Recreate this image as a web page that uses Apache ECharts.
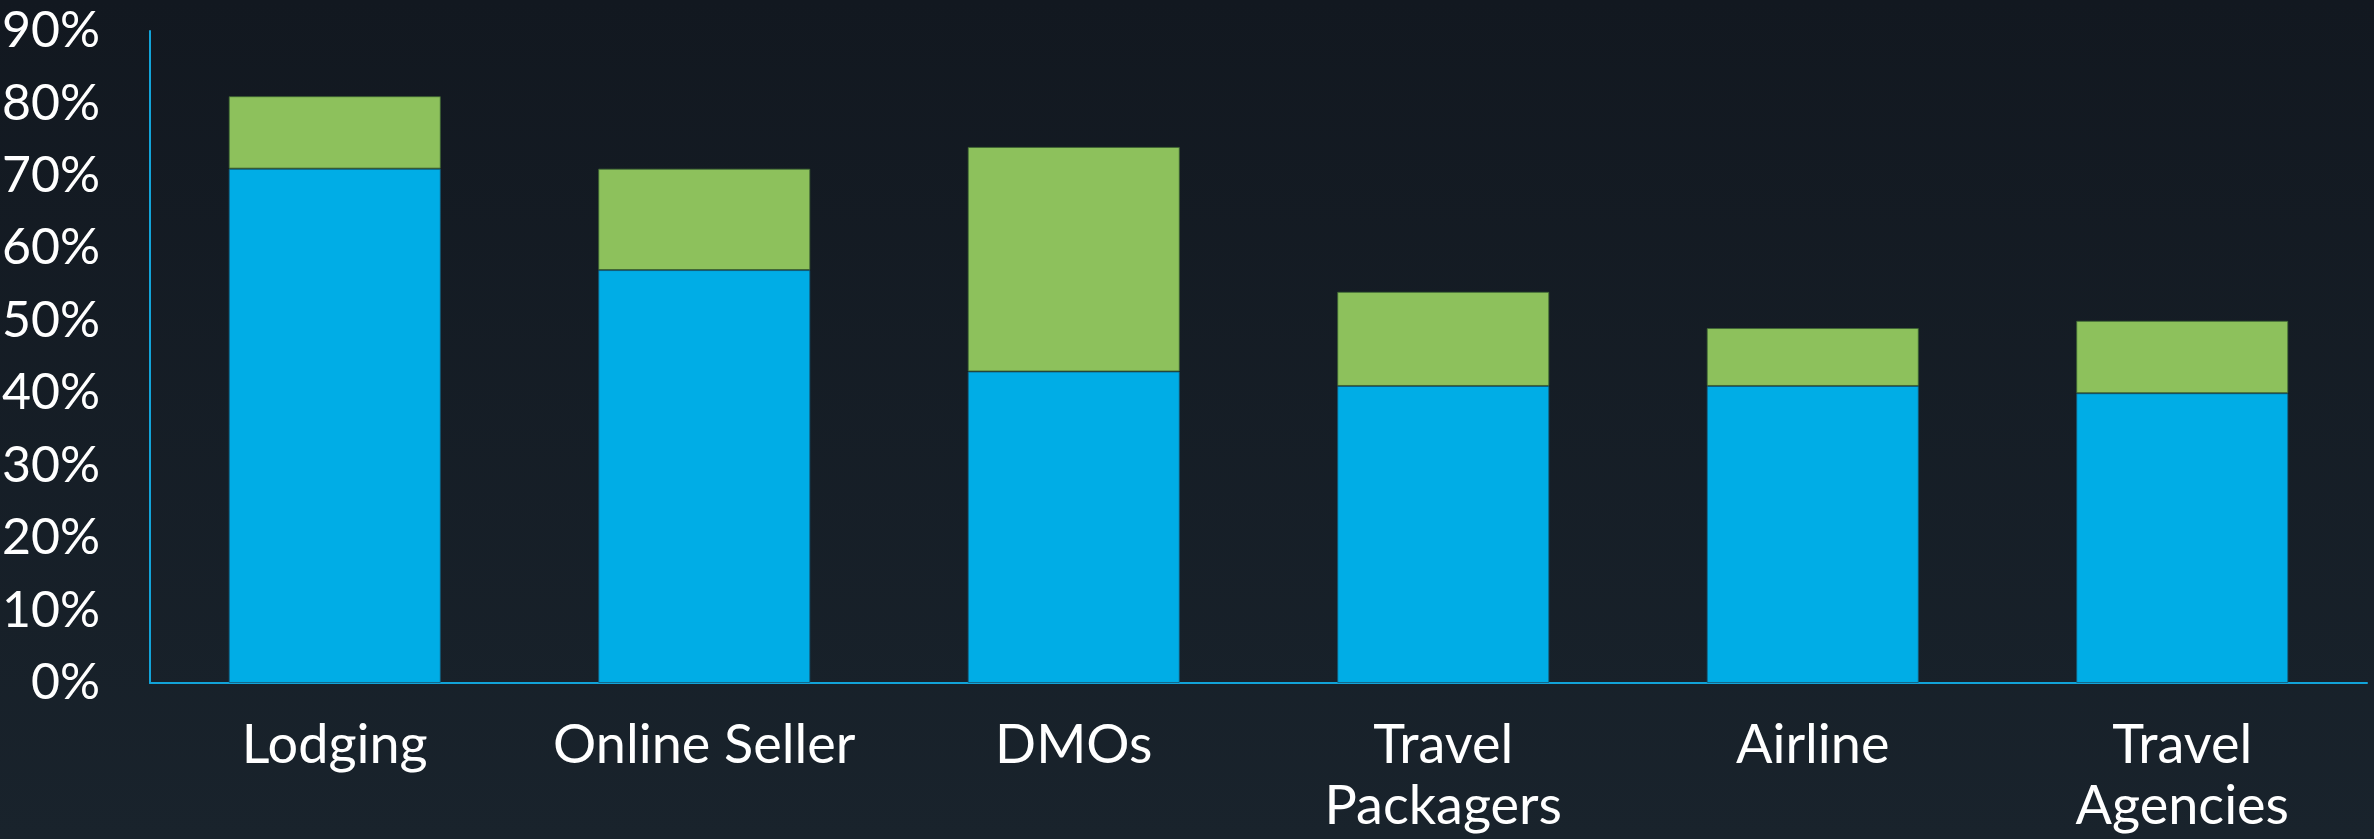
<!DOCTYPE html>
<html>
<head>
<meta charset="utf-8">
<script src="https://cdn.jsdelivr.net/npm/echarts@6/dist/echarts.min.js"></script>
<style>
  html, body { margin: 0; padding: 0; width: 100%; height: 100%; overflow: hidden; }
  #chart { width: 2374px; height: 839px; }
</style>
</head>
<body>
<div id="chart"></div>
<script>
// Sector names shown along the bottom
const categories = ['Lodging', 'Online Seller', 'DMOs', 'Travel\nPackagers', 'Airline', 'Travel\nAgencies'];
// Lower (blue) segment of each stack, in percent
const baseShare = [71, 57, 43, 41, 41, 40];
// Upper (green) segment stacked on top, in percent
const addedShare = [10, 14, 31, 13, 8, 10];
// Value-axis range and step, in percent
const yMin = 0;
const yMax = 90;
const yStep = 10;

const FONT = 'Lato, "Open Sans", sans-serif';

const chart = echarts.init(document.getElementById('chart'), null, { renderer: 'canvas' });

chart.setOption({
  animation: false,
  backgroundColor: {
    type: 'linear', x: 0, y: 0, x2: 0, y2: 1,
    colorStops: [
      { offset: 0, color: '#121820' },
      { offset: 1, color: '#19232c' }
    ]
  },
  grid: {
    left: 150, right: 7, top: 31, bottom: 156,
    containLabel: false,
    outerBoundsMode: 'none'
  },
  xAxis: {
    type: 'category',
    data: categories,
    axisLine: { show: true, lineStyle: { color: '#12a3d8', width: 2 } },
    axisTick: { show: false },
    axisLabel: {
      color: '#ffffff',
      fontFamily: FONT,
      fontSize: 54,
      lineHeight: 61,
      margin: 32,
      interval: 0
    }
  },
  yAxis: {
    type: 'value',
    min: yMin,
    max: yMax,
    interval: yStep,
    axisLine: { show: true, lineStyle: { color: '#12a3d8', width: 2 } },
    axisTick: { show: false },
    splitLine: { show: false },
    axisLabel: {
      color: '#ffffff',
      fontFamily: FONT,
      fontSize: 50,
      margin: 50,
      formatter: '{value}%'
    }
  },
  series: [
    {
      type: 'bar',
      stack: 'total',
      data: baseShare,
      barWidth: '57.4%',
      itemStyle: { color: '#00ade6', borderColor: 'rgba(20,90,120,0.8)', borderWidth: 1 }
    },
    {
      type: 'bar',
      stack: 'total',
      data: addedShare,
      barWidth: '57.4%',
      itemStyle: { color: '#8dc15c', borderColor: 'rgba(60,100,50,0.8)', borderWidth: 1 }
    }
  ]
});
</script>
</body>
</html>
